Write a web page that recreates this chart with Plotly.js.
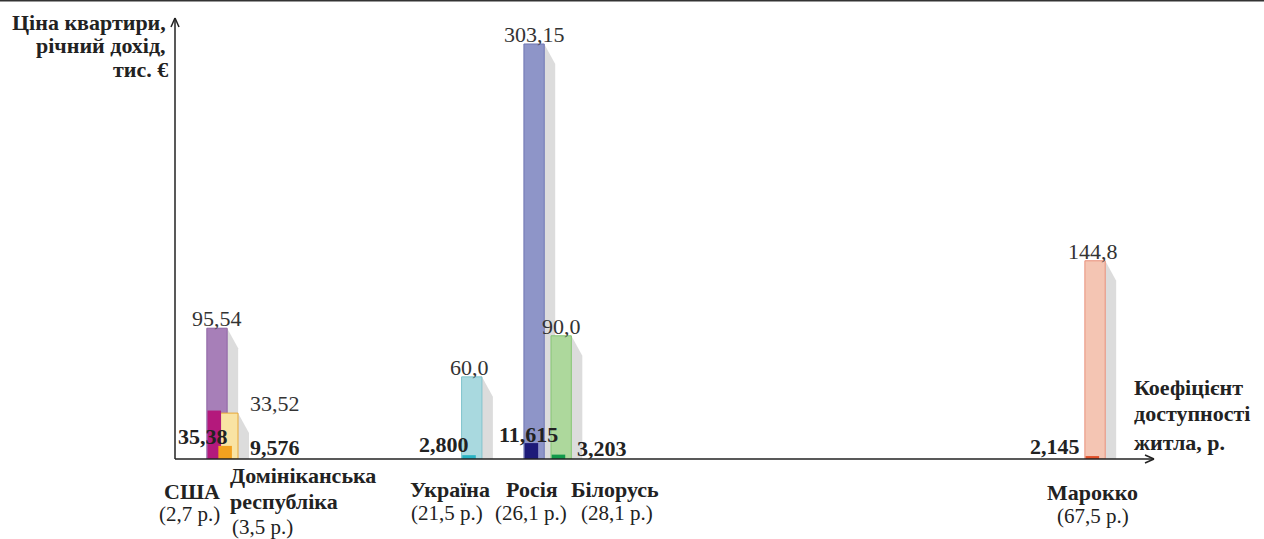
<!DOCTYPE html>
<html>
<head>
<meta charset="utf-8">
<script src="https://cdn.plot.ly/plotly-3.0.1.min.js"></script>
<style>html,body{margin:0;padding:0;background:#fff;}#chart{width:1264px;height:539px;}</style>
</head>
<body>
<div id="chart"></div>
<script>
// ---- data ----
const countries = [['США'], ['Домініканська', 'республіка'], ['Україна'], ['Росія'], ['Білорусь'], ['Марокко']];
const coef = [2.7, 3.5, 21.5, 26.1, 28.1, 67.5];
const coefText = ['(2,7 р.)', '(3,5 р.)', '(21,5 р.)', '(26,1 р.)', '(28,1 р.)', '(67,5 р.)'];
const price = [95.54, 33.52, 60.0, 303.15, 90.0, 144.8];
const priceText = ['95,54', '33,52', '60,0', '303,15', '90,0', '144,8'];
const income = [35.38, 9.576, 2.800, 11.615, 3.203, 2.145];
const incomeText = ['35,38', '9,576', '2,800', '11,615', '3,203', '2,145'];

// ---- styles ----
const priceFill = ['#a77fb8', '#f9e3a3', '#a9d9df', '#8e95c8', '#add89c', '#f4c5b3'];
const priceLine = ['#8d64a3', '#e8a838', '#7fc3cc', '#7077b3', '#86c474', '#e8907a'];
const incomeFill = ['#b4197c', '#f3a11f', '#29b3c3', '#1d1b78', '#129a4a', '#e0502a'];
const priceLbl = [{xa:'center',dx:0},{xa:'left',dx:20},{xa:'center',dx:-2},{xa:'center',dx:0},{xa:'center',dx:0},{xa:'center',dx:-2}];
const incomeLbl = [{xa:'right',dx:13,dy:23},{xa:'left',dx:20,dy:12},{xa:'right',dx:-1,dy:15},{xa:'center',dx:-6,dy:25},{xa:'left',dx:14,dy:11},{xa:'right',dx:-13,dy:13}];
const nameLbl = [
  {xa:'right',dx:5,dy:[-32],cx:5,cy:-55},
  {xa:'left',dx:0,dy:[-16,-42],cx:2,cy:-68},
  {xa:'center',dx:-22,dy:[-30],cx:-25,cy:-54},
  {xa:'center',dx:-2,dy:[-30],cx:-3,cy:-54},
  {xa:'center',dx:54,dy:[-30],cx:56,cy:-54},
  {xa:'center',dx:-3,dy:[-33],cx:-2,cy:-57}
];

const FONT = '"Liberation Serif", "Times New Roman", Times, serif';
const BW = 1.5, IW = 1.0, SW = 0.81, DROP = 14.6;

const shapes = [];
// shadow polygons derived from data, drawn below the bars
coef.forEach((c, i) => {
  const xr = c + BW / 2, xs = xr + SW, top = price[i], low = Math.max(top - DROP, 0);
  shapes.push({type:'path', xref:'x', yref:'y', layer:'below',
    path:'M' + xr + ',' + top + ' L' + xs + ',' + low + ' L' + xs + ',0 L' + xr + ',0 Z',
    fillcolor:'#dcdcdc', line:{width:0}});
});

const traces = [
  {type:'bar', x:coef, y:price, width:BW, offset:-BW/2, marker:{color:priceFill, line:{color:priceLine, width:1}}, hoverinfo:'skip', showlegend:false},
  {type:'bar', x:coef, y:income, width:IW, offset:-BW/2 + 0.05, marker:{color:incomeFill, line:{width:0}}, hoverinfo:'skip', showlegend:false}
];

const ann = [];
coef.forEach((c, i) => {
  ann.push({x:c, y:price[i], xref:'x', yref:'y', text:priceText[i], showarrow:false, xanchor:priceLbl[i].xa, xshift:priceLbl[i].dx, yanchor:'bottom', yshift:-5, font:{family:FONT, size:22, color:'#333'}});
  ann.push({x:c, y:0, xref:'x', yref:'y', text:'<b>' + incomeText[i] + '</b>', showarrow:false, xanchor:incomeLbl[i].xa, xshift:incomeLbl[i].dx, yanchor:'middle', yshift:incomeLbl[i].dy, font:{family:FONT, size:22, color:'#222'}});
  countries[i].forEach((line, j) => {
    ann.push({x:c, y:0, xref:'x', yref:'y', text:'<b>' + line + '</b>', showarrow:false, xanchor:nameLbl[i].xa, xshift:nameLbl[i].dx, yanchor:'middle', yshift:nameLbl[i].dy[j], font:{family:FONT, size:22, color:'#222'}});
  });
  ann.push({x:c, y:0, xref:'x', yref:'y', text:coefText[i], showarrow:false, xanchor:nameLbl[i].xa, xshift:nameLbl[i].cx, yanchor:'middle', yshift:nameLbl[i].cy, font:{family:FONT, size:21, color:'#222'}});
});
// axis titles
const yTitle = ['Ціна квартири,', 'річний дохід,', 'тис. €'];
const yTitleShift = [{dx:-7, dy:-4}, {dx:-7, dy:-27}, {dx:-5, dy:-51}];
yTitle.forEach((t, i) => ann.push({x:0, y:1, xref:'paper', yref:'paper', text:'<b>' + t + '</b>', showarrow:false, xanchor:'right', xshift:yTitleShift[i].dx, yanchor:'middle', yshift:yTitleShift[i].dy, font:{family:FONT, size:22, color:'#222'}}));
const xTitle = ['Коефіцієнт', 'доступності', 'житла, р.'];
const xTitleShift = [72, 46, 17];
xTitle.forEach((t, i) => ann.push({x:1, y:0, xref:'paper', yref:'paper', text:'<b>' + t + '</b>', showarrow:false, xanchor:'left', xshift:-22, yanchor:'middle', yshift:xTitleShift[i], font:{family:FONT, size:22, color:'#222'}}));

const AX = '#222';
shapes.push(
  {type:'line', xref:'paper', yref:'paper', x0:0, x1:1, y0:0, y1:0, line:{color:AX, width:1.5}, layer:'above'},
  {type:'line', xref:'paper', yref:'paper', x0:0, x1:0, y0:0, y1:1, line:{color:AX, width:1.5}, layer:'above'},
  {type:'line', xref:'paper', yref:'paper', xsizemode:'pixel', ysizemode:'pixel', xanchor:1, yanchor:0, x0:-9, x1:0, y0:4, y1:0, line:{color:AX, width:1.5}},
  {type:'line', xref:'paper', yref:'paper', xsizemode:'pixel', ysizemode:'pixel', xanchor:1, yanchor:0, x0:-9, x1:0, y0:-4, y1:0, line:{color:AX, width:1.5}},
  {type:'line', xref:'paper', yref:'paper', xsizemode:'pixel', ysizemode:'pixel', xanchor:0, yanchor:1, x0:-4, x1:0, y0:-9, y1:0, line:{color:AX, width:1.5}},
  {type:'line', xref:'paper', yref:'paper', xsizemode:'pixel', ysizemode:'pixel', xanchor:0, yanchor:1, x0:4, x1:0, y0:-9, y1:0, line:{color:AX, width:1.5}},
  {type:'line', xref:'paper', yref:'paper', x0:-0.2, x1:1.2, y0:1 + 17.5/441, y1:1 + 17.5/441, line:{color:'#333', width:2}}
);

const layout = {
  width:1264, height:539,
  margin:{l:175, r:110, t:18, b:80, pad:0},
  paper_bgcolor:'#fff', plot_bgcolor:'rgba(0,0,0,0)',
  barmode:'overlay',
  xaxis:{range:[-0.4, -0.4 + 979/13.55], visible:false, fixedrange:true},
  yaxis:{range:[0, 441/1.369], visible:false, fixedrange:true},
  annotations:ann, shapes:shapes, showlegend:false
};
Plotly.newPlot('chart', traces, layout, {displayModeBar:false, staticPlot:true});
</script>
</body>
</html>
